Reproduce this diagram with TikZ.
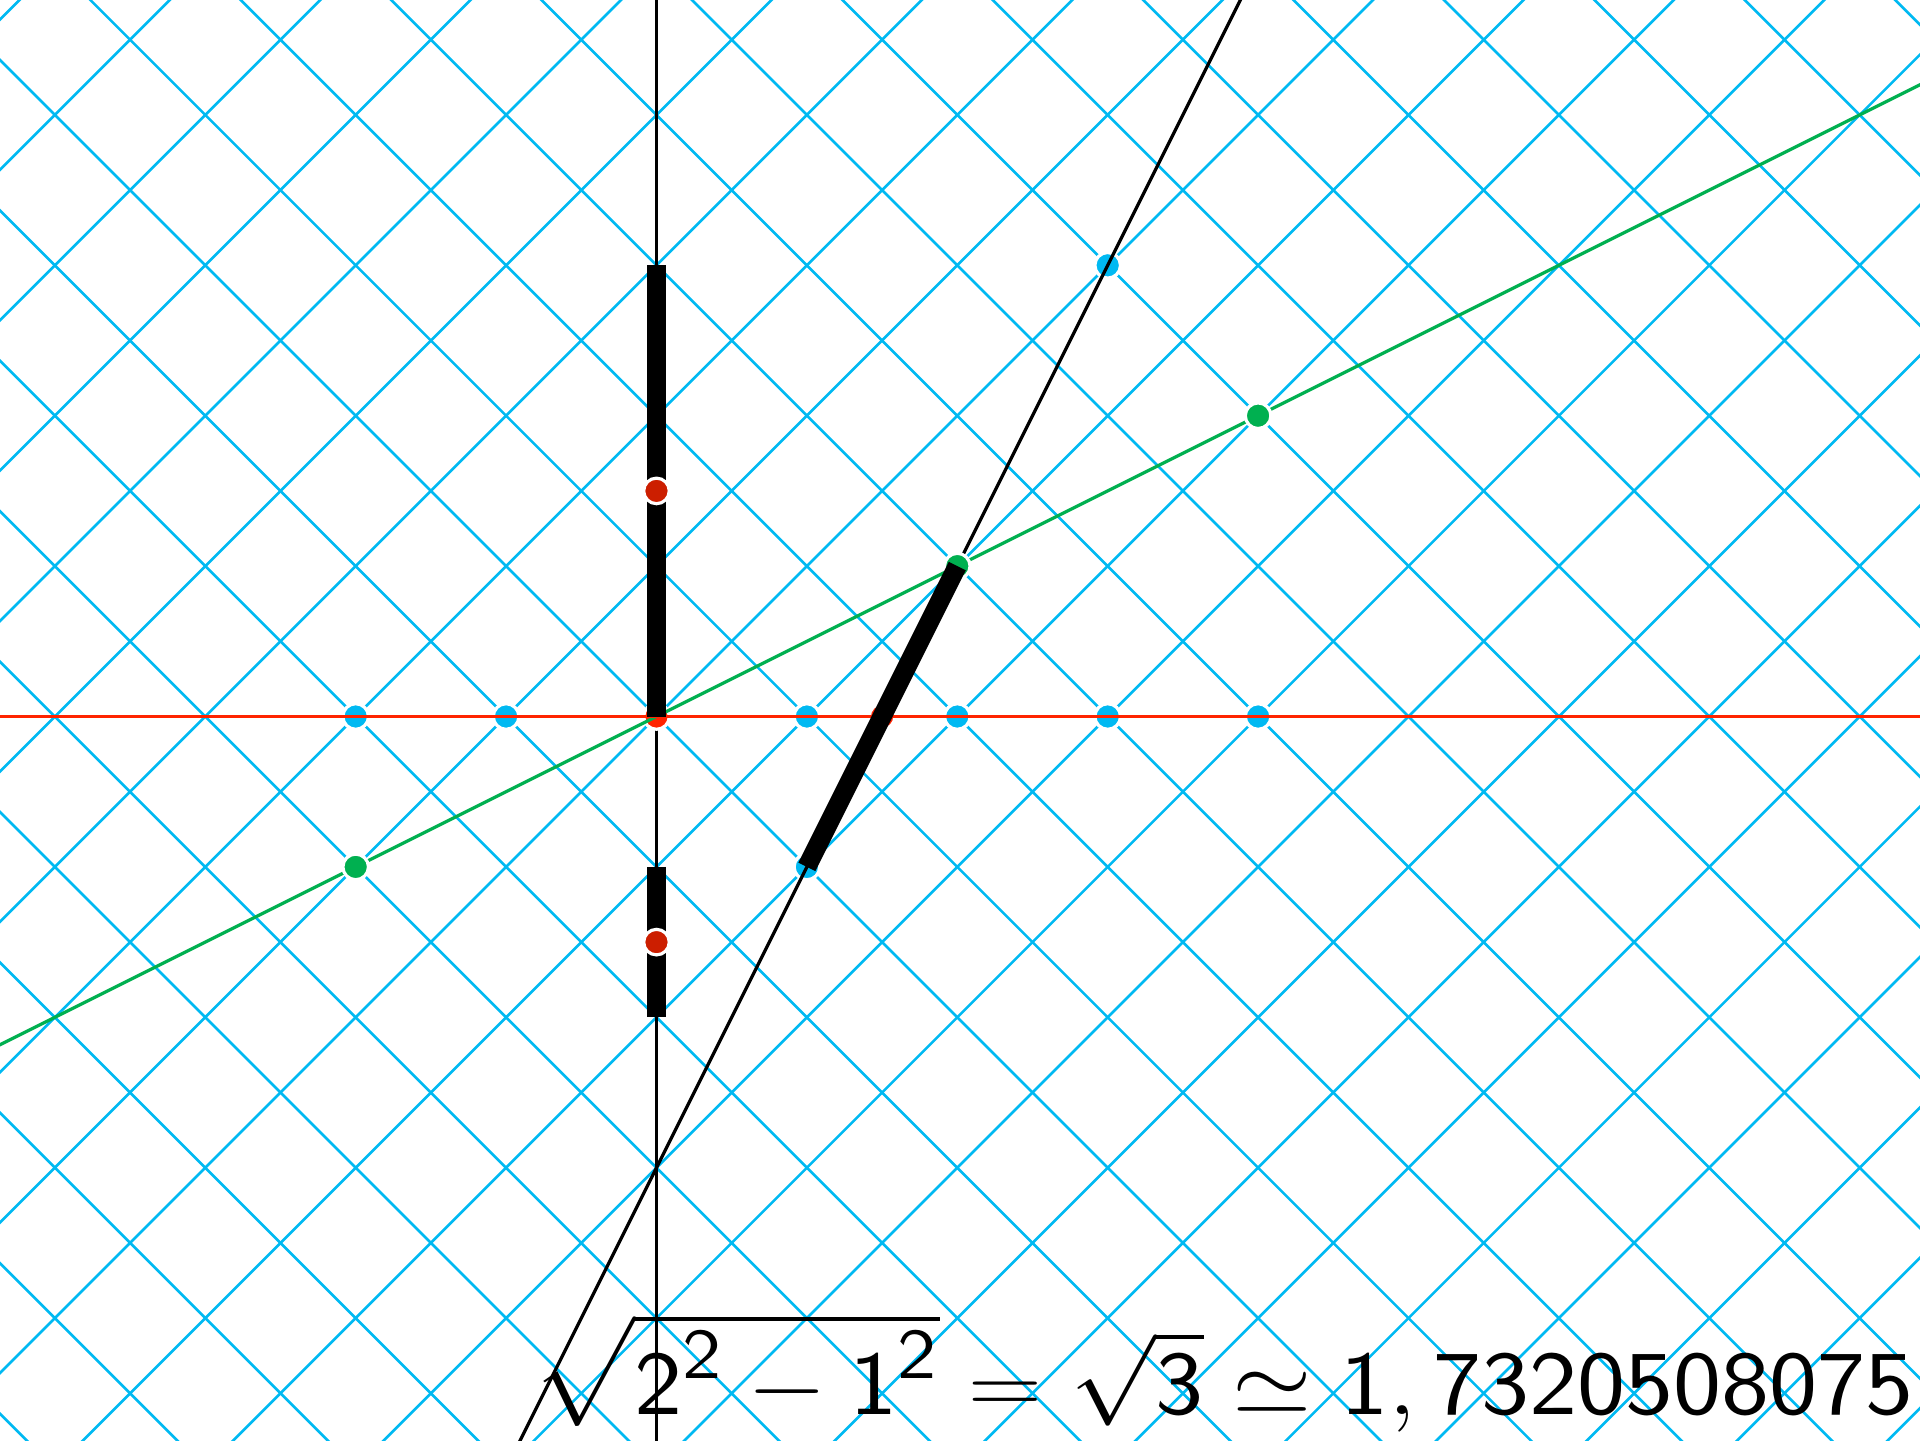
\documentclass[tikz,border=0pt]{standalone}
\usepackage{amsmath}
\usepackage{amssymb}
\usepackage{tikz}
\usepackage{xcolor}
\definecolor{gridblue}{RGB}{0,185,242}
\definecolor{axisgreen}{RGB}{0,176,80}
\definecolor{axisred}{RGB}{255,36,0}
\definecolor{dotred}{RGB}{204,30,0}
\newcommand{\supdigit}[1]{^{\mbox{\raisebox{2pt}{\fontsize{13.5}{14}\selectfont\sffamily #1}}}}

\begin{document}
\begin{tikzpicture}[
  ptdot/.style={circle,inner sep=0pt,minimum size=1.7mm,draw=white,line width=0.6pt},
  bluedot/.style={ptdot,fill=gridblue},
  greendot/.style={ptdot,fill=axisgreen},
  reddot/.style={ptdot,fill=dotred},
  bar/.style={line width=3.6pt}
]
\useasboundingbox (-4.365,-4.811) rectangle (8.401,4.764);
\clip (-4.365,-4.811) rectangle (8.401,4.764);
\foreach \n in {-10,...,14} {
  \draw[gridblue,line width=0.5pt] (\n-5,-5) -- (\n+5,5);
  \draw[gridblue,line width=0.5pt] (\n+5,-5) -- (\n-5,5);
}
\coordinate (tlow) at (0,-5);
\coordinate (thigh) at (0,5);
\coordinate (xlow) at (-5,0);
\coordinate (xhigh) at (9,0);
\coordinate (glow) at (-5,-2.5);
\coordinate (ghigh) at (9,4.5);
\coordinate (slow) at (-1,-5);
\coordinate (shigh) at (4,5);
\coordinate (t3) at (0,3);
\coordinate (tm1) at (0,-1);
\coordinate (tm2) at (0,-2);
\draw[line width=0.6pt] (tlow) -- (thigh);
\node[reddot,fill=axisred] (O) at (0,0) {};
\draw[axisgreen,line width=0.6pt] (glow) -- (ghigh);
\foreach \x in {-2,-1,1,2,3,4}
  \node[bluedot] (b\x) at (\x,0) {};
\node[bluedot] (P) at (1,-1) {};
\node[bluedot] (Q) at (3,3) {};
\node[reddot,fill=axisred] (R) at (1.5,0) {};
\draw[axisred,line width=0.55pt] (xlow) -- (xhigh);
\draw[line width=0.6pt] (slow) -- (shigh);
\node[greendot] (G1) at (-2,-1) {};
\node[greendot] (G2) at (2,1) {};
\node[greendot] (G3) at (4,2) {};
\draw[bar] (O.center) -- (t3);
\draw[bar] (tm1) -- (tm2);
\draw[bar] (P.center) -- (G2.center);
\node[reddot] (A) at (0,1.5) {};
\node[reddot] (B) at (0,-1.5) {};
\node[transform shape,xscale=1.12,anchor=base east,inner sep=0pt] (formula) at (8.37,-4.644)
  {\fontsize{17.28}{20}\selectfont$\sqrt{\mathsf{2}\supdigit{2}-\mathsf{1}\supdigit{2}}=\sqrt{\mathsf{3}}\simeq\mathsf{1},\mathsf{7320508075}$};
\end{tikzpicture}
\end{document}
